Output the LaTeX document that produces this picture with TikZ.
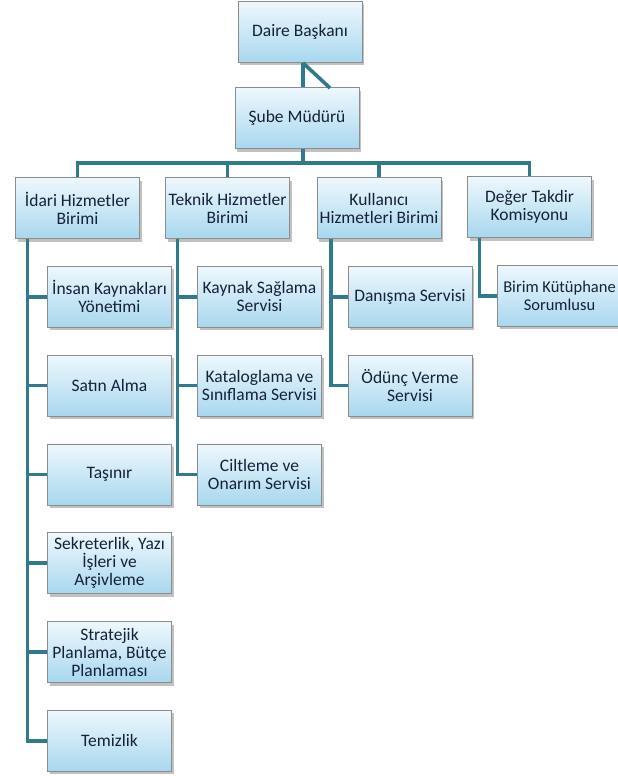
\documentclass[tikz,border=0pt]{standalone}
\usepackage{fontspec}
\setmainfont{Carlito}
\usetikzlibrary{positioning, shadows}

\definecolor{linkteal}{HTML}{2F7A8C}
\definecolor{boxtop}{HTML}{EEF8FD}
\definecolor{boxbottom}{HTML}{A8D7EE}
\definecolor{boxtext}{HTML}{16213A}

\begin{document}
\begin{tikzpicture}[
    x=1pt, y=-1pt,
    node distance=27pt,
    unit/.style={rectangle, draw=black!45, line width=0.8pt, minimum width=124pt, minimum height=61pt, align=center,
        top color=boxtop, bottom color=boxbottom, text=boxtext, inner sep=1pt,
        font=\fontsize{17.5}{18}\selectfont,
        drop shadow={shadow xshift=2pt, shadow yshift=-3pt, opacity=0.35, fill=black!70}},
    conn/.style={draw=linkteal, line width=3.6pt}
]
\clip (0,0) rectangle (618,776);
\useasboundingbox (0,0) rectangle (618,776);

% --- Top ---
\node[unit] (daire) at (300,32) {Daire Başkanı};
\node[unit] (sube) at (297,118) {Şube Müdürü};

% --- Units ---
\node[unit] (idari) at (77.5,208) {İdari Hizmetler\\Birimi};
\node[unit] (teknik) at (227.5,208) {Teknik Hizmetler\\Birimi};
\node[unit] (kullanici) at (379,208) {Kullanıcı\\Hizmetleri Birimi};
\node[unit] (deger) at (529.5,207) {Değer Takdir\\Komisyonu};

% --- Idari children ---
\node[unit, below=27pt of idari.south, anchor=north, xshift=32pt] (insan) {İnsan Kaynakları\\Yönetimi};
\node[unit, below=of insan] (satin) {Satın Alma};
\node[unit, below=of satin] (tasinir) {Taşınır};
\node[unit, below=of tasinir] (sekreter) {Sekreterlik, Yazı\\İşleri ve\\Arşivleme};
\node[unit, below=of sekreter] (strateji) {Stratejik\\Planlama, Bütçe\\Planlaması};
\node[unit, below=of strateji] (temizlik) {Temizlik};

% --- Teknik children ---
\node[unit, below=27pt of teknik.south, anchor=north, xshift=32pt] (kaynak) {Kaynak Sağlama\\Servisi};
\node[unit, below=of kaynak] (katalog) {Kataloglama ve\\Sınıflama Servisi};
\node[unit, below=of katalog] (cilt) {Ciltleme ve\\Onarım Servisi};

% --- Kullanici children ---
\node[unit, below=27pt of kullanici.south, anchor=north, xshift=31pt] (danisma) {Danışma Servisi};
\node[unit, below=of danisma] (oduenc) {Ödünç Verme\\Servisi};

% --- Deger child ---
\node[unit, below=27pt of deger.south, anchor=north, xshift=30pt, font=\fontsize{16.5}{18}\selectfont] (kutuphane) {Birim Kütüphane\\Sorumlusu};

% --- Connectors ---
\coordinate (bus) at (0,163);
\draw[conn] (daire.south -| 303,0) -- (sube.north -| 303,0);
\draw[conn] (daire.south -| 303,0) -- (330,88);
\draw[conn] (sube.south -| 303,0) -- (bus -| 303,0);
\draw[conn] (idari.north) |- (bus -| deger.north) -- (deger.north);
\draw[conn] (bus -| teknik.north) -- (teknik.north);
\draw[conn] (bus -| kullanici.north) -- (kullanici.north);

\coordinate (idari_bus) at ([xshift=-50pt]idari.south);
\coordinate (teknik_bus) at ([xshift=-50pt]teknik.south);
\coordinate (kullanici_bus) at ([xshift=-48pt]kullanici.south);
\coordinate (deger_bus) at ([xshift=-50pt]deger.south);
\foreach \child in {insan, satin, tasinir, sekreter, strateji, temizlik}
    \draw[conn] (idari_bus) |- (\child.west);
\foreach \child in {kaynak, katalog, cilt}
    \draw[conn] (teknik_bus) |- (\child.west);
\foreach \child in {danisma, oduenc}
    \draw[conn] (kullanici_bus) |- (\child.west);
\draw[conn] (deger_bus) |- (kutuphane.west);

\end{tikzpicture}
\end{document}
